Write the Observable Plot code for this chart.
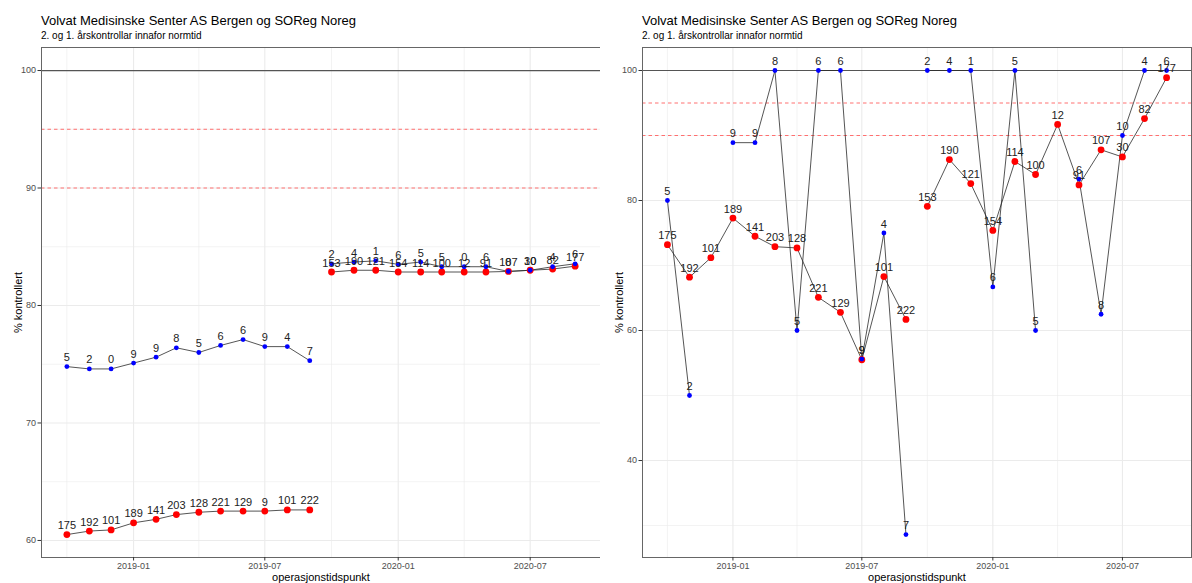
<!DOCTYPE html>
<html><head><meta charset="utf-8">
<script src="https://cdn.jsdelivr.net/npm/d3@7"></script>
<script src="https://cdn.jsdelivr.net/npm/@observablehq/plot@0.6"></script>
<style>
body{margin:0;background:#fff;font-family:"Liberation Sans",Arial,sans-serif;}
#wrap{position:relative;width:1192px;height:583px;overflow:hidden;}
.panel{position:absolute;top:0;height:583px;}
.title{position:absolute;top:13px;font-size:13px;line-height:15px;color:#000;white-space:nowrap;}
.sub{position:absolute;top:30px;font-size:10px;line-height:12px;color:#000;white-space:nowrap;}
.chart{position:absolute;top:44px;left:0;}
</style></head><body><div id="wrap"></div>
<script>
// ---- data ----
const months = ["2018-10","2018-11","2018-12","2019-01","2019-02","2019-03","2019-04","2019-05","2019-06","2019-07","2019-08","2019-09",
                "2019-10","2019-11","2019-12","2020-01","2020-02","2020-03","2020-04","2020-05","2020-06","2020-07","2020-08","2020-09"];
const nBlue = [5,2,0,9,9,8,5,6,6,9,4,7, 2,4,1,6,5,5,0,6,8,10,4,6];
const nRed = [175,192,101,189,141,203,128,221,129,9,101,222, 153,190,121,154,114,100,12,91,107,30,82,177];
// left panel (cumulative)
const leftBlue = [74.8,74.6,74.6,75.1,75.6,76.4,76.0,76.6,77.1,76.5,76.5,75.3, 83.55,83.7,83.8,83.5,83.7,83.3,83.3,83.3,82.9,83.0,83.3,83.55];
const leftRed = [60.5,60.8,60.9,61.5,61.8,62.2,62.4,62.5,62.5,62.5,62.6,62.6, 82.85,83.0,83.0,82.85,82.85,82.85,82.85,82.85,82.9,83.0,83.1,83.35];
// right panel (monthly)
const rightBlue = [80,50,null,88.9,88.9,100,60,100,100,55.6,75,28.6, 100,100,100,66.7,100,60,null,83.3,62.5,90,100,100];
const rightRed = [73.2,68.2,71.2,77.3,74.5,72.9,72.7,65.1,62.8,55.5,68.3,61.7, 79.1,86.3,82.6,75.4,86.0,84.0,91.7,82.4,87.8,86.7,92.6,98.9];
const xTicks = ["2019-01","2019-07","2020-01","2020-07"];
const xMinor = ["2018-10","2019-04","2019-10","2020-04"];
const leftYTicks = [60,70,80,90,100], leftYMinor = [65,75,85,95];
const rightYTicks = [40,60,80,100], rightYMinor = [30,50,70,90];
const targetLine = 100, limitLines = [95,90];
const title = "Volvat Medisinske Senter AS Bergen og SOReg Noreg";
const subtitle = "2. og 1. årskontrollar innafor normtid";

const parse = s => new Date(s + "-01T00:00:00Z");
function rows(vals, ns, series) {
  return months.map((m, i) => ({date: parse(m), value: vals[i], n: ns[i], series, grp: series + (i < 12 ? "a" : "b")}));
}

function makePanel({left, width, mLeft, mRight, blue, red, yDomain, yTicks, yMinor}) {
  const dRed = rows(red, nRed, "red");
  const dBlue = rows(blue, nBlue, "blue");
  const all = [...dRed, ...dBlue];
  const defined = all.filter(d => d.value != null);
  const plot = Plot.plot({
    width, height: 539,
    marginTop: 3, marginBottom: 26, marginLeft: mLeft, marginRight: mRight,
    style: {fontFamily: "'Liberation Sans', Arial, sans-serif", fontSize: "9px", color: "#4d4d4d", background: "#fff"},
    x: {type: "utc", domain: [new Date(Date.UTC(2018,7,27)), new Date(Date.UTC(2020,9,6))]},
    y: {domain: yDomain},
    marks: [
      Plot.ruleY(yMinor, {stroke: "#ebebeb", strokeWidth: 0.6}),
      Plot.ruleX(xMinor.map(parse), {stroke: "#ebebeb", strokeWidth: 0.6}),
      Plot.ruleY(yTicks, {stroke: "#ebebeb", strokeWidth: 1.1}),
      Plot.ruleX(xTicks.map(parse), {stroke: "#ebebeb", strokeWidth: 1.1}),
      Plot.ruleY([targetLine], {stroke: "#555", strokeWidth: 1.2}),
      Plot.ruleY(limitLines, {stroke: "#ff7070", strokeWidth: 1, strokeDasharray: "3.5,3"}),
      Plot.line(all, {x: "date", y: "value", z: "grp", stroke: "#2a2a2a", strokeWidth: 0.8}),
      Plot.dot(dRed.filter(d => d.value != null), {x: "date", y: "value", r: 3.4, fill: "#ff0000", stroke: "none"}),
      Plot.dot(dBlue.filter(d => d.value != null), {x: "date", y: "value", r: 2.4, fill: "#0000ff", stroke: "none"}),
      Plot.text(defined, {x: "date", y: "value", text: d => String(d.n), dy: -9, fontSize: 11, fill: "#222"}),
      Plot.frame({stroke: "#666", strokeWidth: 1}),
      Plot.axisX(xTicks.map(parse), {tickFormat: d3.utcFormat("%Y-%m"), tickSize: 3.5, tickPadding: 2, fill: "#4d4d4d", stroke: "#333",
        label: "operasjonstidspunkt", labelAnchor: "center", labelArrow: "none", labelOffset: 23}),
      Plot.axisY(yTicks, {tickSize: 3.5, tickPadding: 2, fill: "#4d4d4d", stroke: "#333",
        label: "% kontrollert", labelAnchor: "center", labelArrow: "none", labelOffset: 27})
    ]
  });
  const div = document.createElement("div");
  div.className = "panel";
  div.style.left = left + "px";
  div.style.width = width + "px";
  const t = document.createElement("div"); t.className = "title"; t.style.left = mLeft + "px"; t.textContent = title;
  const s = document.createElement("div"); s.className = "sub"; s.style.left = mLeft + "px"; s.textContent = subtitle;
  const c = document.createElement("div"); c.className = "chart"; c.appendChild(plot);
  div.append(t, s, c);
  // make axis label text larger and black
  plot.querySelectorAll("g[aria-label='x-axis label'] text, g[aria-label='y-axis label'] text").forEach(e => {
    e.style.fontSize = "11px"; e.setAttribute("fill", "#000");
  });
  document.getElementById("wrap").appendChild(div);
}

makePanel({left: 0, width: 600, mLeft: 41, mRight: 0, blue: leftBlue, red: leftRed,
  yDomain: [58.55, 101.96], yTicks: leftYTicks, yMinor: leftYMinor});
makePanel({left: 600, width: 592, mLeft: 42, mRight: 1, blue: rightBlue, red: rightRed,
  yDomain: [25.08, 103.54], yTicks: rightYTicks, yMinor: rightYMinor});
</script></body></html>
